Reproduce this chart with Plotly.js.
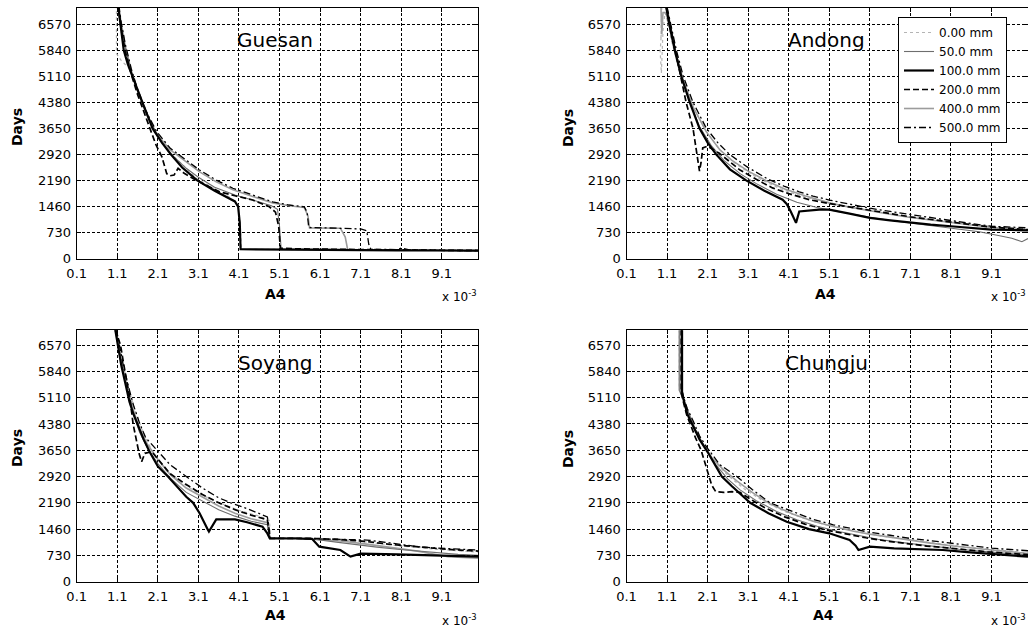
<!DOCTYPE html>
<html>
<head>
<meta charset="utf-8">
<script src="https://cdn.plot.ly/plotly-3.0.1.min.js"></script>
<style>html,body{margin:0;padding:0;background:#fff;}#chart{width:1028px;height:630px;}</style>
</head>
<body>
<div id="chart"></div>
<script>
// ---------- categories / labels ----------
const stations = ["Guesan", "Andong", "Soyang", "Chungju"];
const seriesNames = ["0.00 mm", "50.0 mm", "100.0 mm", "200.0 mm", "400.0 mm", "500.0 mm"];
const xTickVals = [0.1, 1.1, 2.1, 3.1, 4.1, 5.1, 6.1, 7.1, 8.1, 9.1];
const xTickText = ["0.1", "1.1", "2.1", "3.1", "4.1", "5.1", "6.1", "7.1", "8.1", "9.1"];
const yTickVals = [0, 730, 1460, 2190, 2920, 3650, 4380, 5110, 5840, 6570];
const xAxisTitle = "A4";
const yAxisTitle = "Days";
const xScaleNote = "x 10<sup>-3</sup>";

// ---------- Guesan (A4 in units of 1e-3, days) ----------
const guesan_0_x = [1.08, 1.08, 1.2, 1.38, 1.5, 1.72, 1.97, 2.42, 3.07, 3.5, 3.9, 4.08, 4.13, 4.16, 6.0, 8.0, 10.0];
const guesan_0_y = [7100, 5750, 5550, 5350, 5050, 4400, 3700, 2950, 2230, 1950, 1700, 1500, 1000, 260, 245, 230, 220];
const guesan_50_x = [1.13, 1.2, 1.3, 1.45, 1.6, 1.75, 1.95, 2.2, 2.5, 2.8, 3.1, 3.5, 4.0, 4.5, 4.9, 5.05, 5.1, 5.14, 6.0, 7.0, 8.0, 9.0, 10.0];
const guesan_50_y = [7100, 6450, 5900, 5200, 4700, 4300, 3750, 3250, 2850, 2530, 2280, 2000, 1780, 1620, 1480, 1380, 900, 270, 255, 245, 235, 225, 220];
const guesan_100_x = [1.12, 1.18, 1.26, 1.36, 1.47, 1.6, 1.72, 1.85, 1.97, 2.2, 2.42, 2.7, 3.07, 3.5, 3.8, 4.0, 4.08, 4.12, 4.14, 5.0, 6.0, 7.0, 8.0, 9.0, 10.0];
const guesan_100_y = [7100, 6500, 5840, 5450, 5110, 4720, 4380, 4000, 3650, 3250, 2920, 2550, 2190, 1900, 1720, 1600, 1450, 1000, 260, 250, 245, 240, 230, 225, 220];
const guesan_200_x = [1.12, 1.2, 1.3, 1.45, 1.6, 1.75, 1.9, 2.05, 2.2, 2.32, 2.4, 2.5, 2.6, 2.75, 3.0, 3.3, 3.62, 4.0, 4.44, 4.85, 5.0, 5.08, 5.12, 5.5, 6.5, 7.5, 8.5, 10.0];
const guesan_200_y = [7100, 6400, 5800, 5150, 4600, 4150, 3650, 3200, 2850, 2380, 2320, 2340, 2530, 2390, 2220, 2050, 1870, 1760, 1640, 1450, 1300, 900, 290, 270, 255, 245, 235, 225];
const guesan_400_x = [1.12, 1.2, 1.3, 1.45, 1.6, 1.8, 2.07, 2.4, 2.8, 3.13, 3.54, 3.95, 4.44, 4.93, 5.34, 5.71, 5.8, 5.84, 6.6, 6.72, 6.78, 7.5, 8.5, 10.0];
const guesan_400_y = [7100, 6550, 5950, 5250, 4700, 4100, 3500, 3050, 2700, 2430, 2150, 1930, 1740, 1560, 1480, 1430, 1200, 860, 850, 600, 250, 240, 230, 220];
const guesan_500_x = [1.14, 1.2, 1.3, 1.45, 1.6, 1.8, 2.07, 2.4, 2.8, 3.13, 3.54, 3.95, 4.44, 4.93, 5.34, 5.71, 5.78, 5.82, 6.5, 7.1, 7.25, 7.3, 7.35, 8.0, 8.1, 8.3, 9.0, 10.0];
const guesan_500_y = [7100, 6600, 6000, 5300, 4750, 4150, 3560, 3100, 2760, 2480, 2200, 1970, 1780, 1590, 1500, 1450, 1300, 870, 850, 830, 780, 400, 260, 250, 290, 240, 230, 220];

// ---------- Andong ----------
const andong_0_x = [0.97, 0.95, 0.98, 0.93, 0.96, 1.0, 1.05, 1.1, 1.2, 1.35, 1.5, 1.74, 2.07, 2.4, 2.8, 3.3, 3.9, 4.5, 5.1, 6.1, 7.1, 8.1, 9.1, 10.0];
const andong_0_y = [7050, 6200, 6700, 5800, 5200, 6400, 6900, 6700, 6150, 5500, 4950, 4250, 3560, 3050, 2650, 2280, 1950, 1720, 1560, 1340, 1160, 1020, 900, 820];
const andong_50_x = [1.1, 1.2, 1.3, 1.45, 1.66, 1.9, 2.2, 2.5, 2.9, 3.3, 3.8, 4.3, 4.8, 5.3, 5.8, 6.3, 6.8, 7.3, 7.8, 8.3, 8.8, 9.3, 9.6, 9.85, 10.0];
const andong_50_y = [7050, 6450, 5900, 5150, 4400, 3700, 3150, 2750, 2380, 2100, 1800, 1580, 1430, 1320, 1210, 1120, 1040, 970, 900, 820, 750, 640, 570, 470, 560];
const andong_100_x = [1.08, 1.15, 1.29, 1.45, 1.66, 1.9, 2.1, 2.31, 2.65, 3.05, 3.5, 3.95, 4.05, 4.15, 4.28, 4.36, 4.85, 5.1, 5.6, 6.1, 6.6, 7.1, 7.6, 8.1, 8.6, 9.1, 9.6, 10.0];
const andong_100_y = [7050, 6600, 5840, 5110, 4380, 3650, 3250, 2920, 2500, 2190, 1900, 1650, 1530, 1320, 1000, 1320, 1370, 1370, 1260, 1140, 1070, 1000, 950, 905, 860, 810, 800, 790];
const andong_200_x = [1.08, 1.2, 1.33, 1.45, 1.57, 1.74, 1.8, 1.86, 1.9, 1.94, 1.98, 2.1, 2.39, 2.64, 2.9, 3.3, 3.7, 4.1, 4.6, 5.1, 5.6, 6.1, 6.6, 7.1, 7.6, 8.1, 8.6, 9.1, 9.6, 10.0];
const andong_200_y = [7050, 6400, 5700, 5110, 4380, 3650, 3190, 2800, 2450, 2700, 3100, 3150, 2950, 2720, 2480, 2220, 1980, 1820, 1650, 1540, 1440, 1350, 1260, 1170, 1090, 1010, 950, 880, 840, 810];
const andong_400_x = [0.95, 0.97, 1.0, 1.05, 1.1, 1.2, 1.33, 1.5, 1.74, 2.07, 2.4, 2.7, 3.1, 3.6, 4.0, 4.5, 5.1, 5.6, 6.1, 6.6, 7.1, 7.6, 8.1, 8.6, 9.1, 9.6, 10.0];
const andong_400_y = [7050, 6300, 6900, 6900, 6800, 6300, 5700, 5000, 4250, 3550, 3050, 2750, 2450, 2150, 1950, 1760, 1560, 1440, 1330, 1240, 1150, 1080, 1000, 930, 870, 830, 800];
const andong_500_x = [1.1, 1.2, 1.33, 1.5, 1.74, 2.07, 2.35, 2.64, 3.1, 3.6, 4.0, 4.36, 4.7, 5.1, 5.6, 6.1, 6.6, 7.1, 7.6, 8.1, 8.6, 9.1, 9.6, 10.0];
const andong_500_y = [7050, 6500, 5840, 5110, 4380, 3650, 3250, 2920, 2550, 2220, 2020, 1870, 1750, 1640, 1520, 1410, 1320, 1230, 1140, 1050, 980, 905, 880, 860];

// ---------- Soyang ----------
const soyang_0_x = [1.06, 1.2, 1.35, 1.5, 1.7, 1.95, 2.3, 2.7, 3.1, 3.6, 4.1, 4.6, 4.85, 4.88, 6.0, 7.0, 8.0, 9.0, 10.0];
const soyang_0_y = [7000, 6300, 5500, 4900, 4250, 3650, 3100, 2750, 2450, 2200, 1980, 1820, 1700, 1205, 1190, 1130, 1000, 900, 820];
const soyang_50_x = [1.06, 1.15, 1.25, 1.38, 1.5, 1.65, 1.85, 2.1, 2.4, 2.8, 3.2, 3.6, 4.0, 4.4, 4.8, 4.86, 5.5, 6.0, 6.5, 7.0, 7.5, 8.0, 8.5, 9.0, 9.5, 10.0];
const soyang_50_y = [7000, 6400, 5800, 5150, 4650, 4150, 3700, 3280, 2880, 2480, 2230, 2000, 1820, 1680, 1580, 1205, 1205, 1170, 1100, 1020, 960, 900, 850, 800, 760, 730];
const soyang_100_x = [1.05, 1.12, 1.2, 1.3, 1.4, 1.5, 1.62, 1.75, 1.9, 2.1, 2.35, 2.6, 2.8, 2.97, 3.13, 3.33, 3.36, 3.54, 4.0, 4.3, 4.68, 4.8, 4.86, 5.5, 5.9, 6.08, 6.6, 6.85, 7.1, 8.0, 9.0, 10.0];
const soyang_100_y = [7000, 6500, 6000, 5500, 5000, 4650, 4300, 3950, 3600, 3200, 2920, 2600, 2360, 2190, 1900, 1450, 1390, 1730, 1730, 1650, 1527, 1340, 1205, 1200, 1190, 972, 880, 695, 780, 760, 730, 695];
const soyang_200_x = [1.05, 1.18, 1.29, 1.41, 1.49, 1.57, 1.64, 1.7, 1.74, 1.78, 1.95, 2.11, 2.4, 2.8, 3.2, 3.6, 4.0, 4.4, 4.8, 4.84, 4.87, 5.5, 6.0, 6.6, 7.2, 7.8, 8.5, 9.2, 10.0];
const soyang_200_y = [7000, 6570, 5840, 5110, 4380, 3890, 3550, 3330, 3450, 3565, 3610, 3400, 3000, 2700, 2420, 2190, 2000, 1850, 1720, 1400, 1205, 1205, 1200, 1170, 1120, 1040, 960, 900, 850];
const soyang_400_x = [1.05, 1.15, 1.25, 1.38, 1.5, 1.65, 1.85, 2.1, 2.4, 2.8, 3.2, 3.6, 4.0, 4.4, 4.8, 4.86, 5.5, 6.0, 6.6, 7.2, 7.8, 8.5, 9.25, 10.0];
const soyang_400_y = [7000, 6450, 5850, 5250, 4750, 4250, 3800, 3400, 2980, 2600, 2350, 2100, 1900, 1750, 1640, 1205, 1205, 1180, 1130, 1050, 950, 850, 695, 650];
const soyang_500_x = [1.08, 1.15, 1.25, 1.38, 1.5, 1.65, 1.8, 2.08, 2.4, 2.8, 3.2, 3.6, 3.9, 4.3, 4.6, 4.8, 4.84, 4.87, 5.5, 6.0, 6.6, 7.26, 7.8, 8.5, 9.2, 10.0];
const soyang_500_y = [7000, 6600, 6000, 5400, 4900, 4400, 4000, 3650, 3250, 2920, 2600, 2330, 2190, 2030, 1900, 1800, 1500, 1205, 1205, 1195, 1180, 1157, 1080, 972, 920, 880];

// ---------- Chungju ----------
const chungju_0_x = [1.4, 1.4, 1.5, 1.65, 1.8, 2.0, 2.3, 2.6, 3.0, 3.5, 4.0, 4.5, 5.0, 5.5, 6.0, 6.5, 7.0, 7.5, 8.0, 8.5, 9.0, 9.5, 10.0];
const chungju_0_y = [7000, 5350, 5100, 4600, 4200, 3780, 3300, 2950, 2580, 2220, 1950, 1750, 1580, 1450, 1340, 1250, 1170, 1100, 1030, 960, 900, 850, 800];
const chungju_50_x = [1.42, 1.42, 1.5, 1.6, 1.75, 1.9, 2.1, 2.3, 2.6, 2.9, 3.3, 3.8, 4.3, 4.8, 5.3, 5.8, 6.3, 6.8, 7.3, 7.8, 8.3, 8.8, 9.3, 9.8, 10.0];
const chungju_50_y = [7000, 5300, 5050, 4750, 4350, 3980, 3600, 3250, 2850, 2550, 2250, 1950, 1720, 1540, 1400, 1280, 1180, 1100, 1030, 970, 900, 850, 800, 760, 740];
const chungju_100_x = [1.47, 1.47, 1.52, 1.6, 1.75, 1.9, 2.1, 2.3, 2.45, 2.7, 3.15, 3.6, 4.05, 4.6, 5.1, 5.6, 5.75, 5.82, 6.1, 6.7, 7.3, 7.9, 8.5, 9.2, 10.0];
const chungju_100_y = [7000, 5275, 5000, 4650, 4300, 3950, 3600, 3200, 2920, 2650, 2190, 1900, 1666, 1460, 1343, 1157, 1000, 880, 972, 927, 900, 880, 820, 760, 694];
const chungju_200_x = [1.45, 1.45, 1.5, 1.58, 1.67, 1.8, 1.94, 2.05, 2.1, 2.2, 2.3, 2.5, 2.7, 2.9, 3.1, 3.5, 4.0, 4.5, 5.0, 5.5, 6.0, 6.5, 7.0, 7.5, 8.0, 8.5, 9.0, 9.5, 10.0];
const chungju_200_y = [7000, 5250, 5000, 4650, 4380, 4000, 3650, 3250, 3050, 2680, 2500, 2480, 2500, 2480, 2330, 2060, 1800, 1600, 1440, 1320, 1220, 1130, 1050, 990, 940, 880, 830, 790, 750];
const chungju_400_x = [1.4, 1.4, 1.45, 1.55, 1.65, 1.8, 2.0, 2.2, 2.5, 2.82, 3.2, 3.64, 4.2, 4.7, 5.2, 5.7, 6.1, 6.6, 7.1, 7.6, 8.1, 8.6, 9.1, 9.6, 10.0];
const chungju_400_y = [7000, 5320, 5200, 4900, 4600, 4200, 3800, 3450, 3100, 2800, 2480, 2160, 1880, 1680, 1530, 1400, 1320, 1230, 1140, 1070, 1000, 930, 880, 830, 780];
const chungju_500_x = [1.47, 1.47, 1.5, 1.6, 1.75, 1.9, 2.1, 2.4, 2.82, 3.2, 3.64, 4.2, 4.7, 5.2, 5.7, 6.1, 6.6, 7.1, 7.6, 8.1, 8.6, 9.1, 9.6, 10.0];
const chungju_500_y = [7000, 5300, 5150, 4800, 4450, 4050, 3700, 3250, 2920, 2560, 2190, 1950, 1730, 1580, 1460, 1370, 1290, 1200, 1140, 1080, 1000, 930, 880, 860];

// ---------- assembly ----------
const panelData = {
  Guesan:  [[guesan_0_x, guesan_0_y], [guesan_50_x, guesan_50_y], [guesan_100_x, guesan_100_y], [guesan_200_x, guesan_200_y], [guesan_400_x, guesan_400_y], [guesan_500_x, guesan_500_y]],
  Andong:  [[andong_0_x, andong_0_y], [andong_50_x, andong_50_y], [andong_100_x, andong_100_y], [andong_200_x, andong_200_y], [andong_400_x, andong_400_y], [andong_500_x, andong_500_y]],
  Soyang:  [[soyang_0_x, soyang_0_y], [soyang_50_x, soyang_50_y], [soyang_100_x, soyang_100_y], [soyang_200_x, soyang_200_y], [soyang_400_x, soyang_400_y], [soyang_500_x, soyang_500_y]],
  Chungju: [[chungju_0_x, chungju_0_y], [chungju_50_x, chungju_50_y], [chungju_100_x, chungju_100_y], [chungju_200_x, chungju_200_y], [chungju_400_x, chungju_400_y], [chungju_500_x, chungju_500_y]]
};

const lineStyles = [
  {color: '#b4b4b4', width: 1.2, dash: 'dot'},
  {color: '#6e6e6e', width: 1.1, dash: 'solid'},
  {color: '#000000', width: 2.2, dash: 'solid'},
  {color: '#000000', width: 1.7, dash: '6px,3px'},
  {color: '#9c9c9c', width: 1.6, dash: 'solid'},
  {color: '#000000', width: 1.3, dash: '7px,3px,2px,3px'}
];
const drawOrder = [0, 4, 1, 5, 3, 2];

const axisIds = [['x', 'y'], ['x2', 'y2'], ['x3', 'y3'], ['x4', 'y4']];
const FONT = 'DejaVu Sans, Arial, sans-serif';

const traces = [];
stations.forEach((st, p) => {
  drawOrder.forEach(si => {
    const d = panelData[st][si];
    traces.push({
      type: 'scatter', mode: 'lines',
      x: d[0], y: d[1],
      xaxis: axisIds[p][0], yaxis: axisIds[p][1],
      name: seriesNames[si],
      legendrank: si + 1,
      showlegend: st === 'Andong',
      line: lineStyles[si],
      hoverinfo: 'skip'
    });
  });
});

function xax(domain, anchor) {
  return {
    domain: domain, anchor: anchor, range: [0.1, 10],
    tickmode: 'array', tickvals: xTickVals, ticktext: xTickText,
    showgrid: true, gridcolor: '#000', gridwidth: 1, griddash: '3px,2px',
    zeroline: false, showline: true, linecolor: '#000', linewidth: 1, mirror: 'ticks',
    ticks: 'inside', ticklen: 4, tickcolor: '#000', ticklabelstandoff: 3,
    tickfont: {family: FONT, size: 13, color: '#000'}
  };
}
function yax(domain, anchor, top) {
  return {
    domain: domain, anchor: anchor, range: [0, top],
    tickmode: 'array', tickvals: yTickVals,
    showgrid: true, gridcolor: '#000', gridwidth: 1, griddash: '3px,2px',
    zeroline: false, showline: true, linecolor: '#000', linewidth: 1, mirror: 'ticks',
    ticks: 'inside', ticklen: 4, tickcolor: '#000', ticklabelstandoff: 2,
    tickfont: {family: FONT, size: 13, color: '#000'}
  };
}

const xL = [76.7 / 1028, 478.3 / 1028];
const xR = [626.5 / 1028, 1.0];
const yT = [1 - 258.5 / 630, 1 - 7.5 / 630];
const yB = [1 - 581.7 / 630, 1 - 330.3 / 630];

const ann = [];
const titlePos = [[275, 40], [826.7, 40], [275, 363], [826.7, 363]];
stations.forEach((st, p) => {
  ann.push({xref: 'paper', yref: 'paper', x: titlePos[p][0] / 1028, y: 1 - titlePos[p][1] / 630,
    text: st, showarrow: false, xanchor: 'center', yanchor: 'middle',
    font: {family: FONT, size: 20, color: '#000'}});
});
const daysPos = [[17, 127], [568, 128], [17, 448], [568, 449]];
daysPos.forEach(pp => ann.push({xref: 'paper', yref: 'paper', x: pp[0] / 1028, y: 1 - pp[1] / 630,
  text: '<b>' + yAxisTitle + '</b>', textangle: -90, showarrow: false, xanchor: 'center', yanchor: 'middle',
  font: {family: FONT, size: 14, color: '#000'}}));
const a4Pos = [[275, 294], [825, 294], [275, 615], [823, 615]];
a4Pos.forEach(pp => ann.push({xref: 'paper', yref: 'paper', x: pp[0] / 1028, y: 1 - pp[1] / 630,
  text: '<b>' + xAxisTitle + '</b>', showarrow: false, xanchor: 'center', yanchor: 'middle',
  font: {family: FONT, size: 14, color: '#000'}}));
const notePos = [[479, 296, 'right'], [989, 296, 'left'], [479, 620, 'right'], [989, 620, 'left']];
notePos.forEach(pp => ann.push({xref: 'paper', yref: 'paper', x: pp[0] / 1028, y: 1 - pp[1] / 630,
  text: xScaleNote, showarrow: false, xanchor: pp[2], yanchor: 'middle',
  font: {family: FONT, size: 12, color: '#000'}}));

const layout = {
  width: 1028, height: 630,
  margin: {l: 0, r: 0, t: 0, b: 0, pad: 0},
  paper_bgcolor: '#fff', plot_bgcolor: '#fff',
  font: {family: FONT, color: '#000'},
  xaxis: xax(xL, 'y'), yaxis: yax(yT, 'x', 7040),
  xaxis2: xax(xR, 'y2'), yaxis2: yax(yT, 'x2', 7040),
  xaxis3: xax(xL, 'y3'), yaxis3: yax(yB, 'x3', 6980),
  xaxis4: xax(xR, 'y4'), yaxis4: yax(yB, 'x4', 6980),
  showlegend: true,
  legend: {
    x: 898 / 1028, y: 1 - 17 / 630, xanchor: 'left', yanchor: 'top',
    bgcolor: '#fff', bordercolor: '#000', borderwidth: 1,
    font: {family: FONT, size: 12, color: '#000'},
    tracegroupgap: 0, itemwidth: 30, traceorder: 'normal'
  },
  annotations: ann
};

Plotly.newPlot('chart', traces, layout, {displayModeBar: false, staticPlot: true});
</script>
</body>
</html>
